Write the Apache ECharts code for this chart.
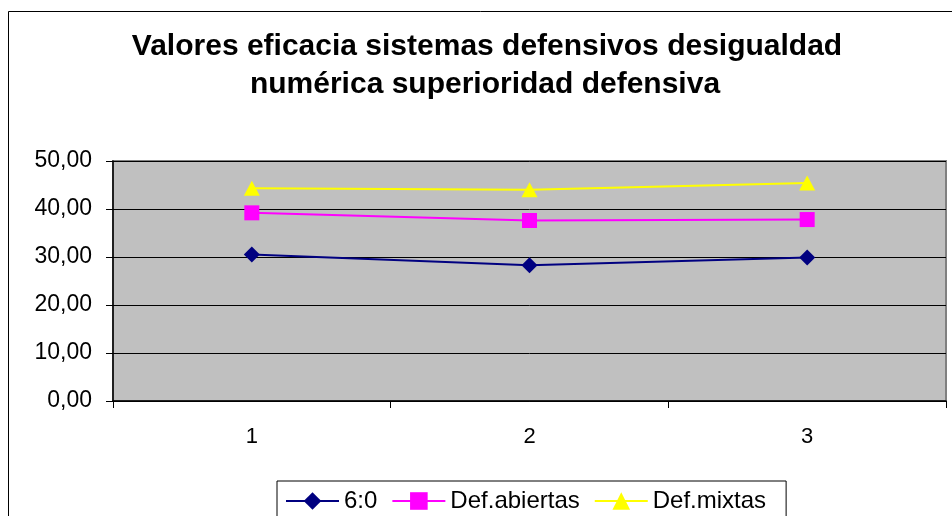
<!DOCTYPE html>
<html>
<head>
<meta charset="utf-8">
<script src="https://cdn.jsdelivr.net/npm/echarts@6/dist/echarts.min.js"></script>
<style>
html,body{margin:0;padding:0;background:#fff;}
#chart{width:952px;height:516px;}
</style>
</head>
<body>
<div id="chart"></div>
<script>
const titleLines = ['Valores eficacia sistemas defensivos desigualdad', 'numérica superioridad defensiva'];
const categories = ['1', '2', '3'];
const seriesNames = ['6:0', 'Def.abiertas', 'Def.mixtas'];
const values60 = [30.5, 28.3, 29.9];
const valuesAbiertas = [39.2, 37.6, 37.8];
const valuesMixtas = [44.3, 44.0, 45.4];
const yMin = 0, yMax = 50, yStep = 10;

const FONT = 'Liberation Sans, Arial, sans-serif';
const chart = echarts.init(document.getElementById('chart'), null, {renderer: 'canvas'});

const option = {
  animation: false,
  backgroundColor: '#ffffff',
  graphic: [
    {type: 'rect', silent: true, z: -10, shape: {x: 8.5, y: 11.5, width: 1200, height: 1200}, style: {fill: 'none', stroke: '#000', lineWidth: 1}},
    {type: 'text', x: 487, y: 47, style: {text: titleLines[0], font: 'bold 30px ' + FONT, fill: '#000', textAlign: 'center', textVerticalAlign: 'middle'}},
    {type: 'text', x: 485, y: 85, style: {text: titleLines[1], font: 'bold 30px ' + FONT, fill: '#000', textAlign: 'center', textVerticalAlign: 'middle'}}
  ],
  legend: {
    left: 277, top: 481,
    padding: [8, 20, 8, 8],
    itemWidth: 53, itemHeight: 22, itemGap: 14,
    borderColor: '#000', borderWidth: 1, borderRadius: 0,
    backgroundColor: '#fff',
    textStyle: {fontFamily: FONT, fontSize: 24, color: '#000'},
    data: seriesNames
  },
  grid: {
    left: 113, right: 6, top: 161, bottom: 115,
    show: true, backgroundColor: '#c0c0c0', borderColor: '#808080', borderWidth: 2,
    containLabel: false
  },
  xAxis: {
    type: 'category', data: categories, boundaryGap: true,
    axisLine: {lineStyle: {color: '#000', width: 1.5}},
    axisTick: {show: true, length: 7, inside: false, alignWithLabel: false, lineStyle: {color: '#000', width: 1}},
    axisLabel: {fontFamily: FONT, fontSize: 22, color: '#000', margin: 25},
    splitLine: {show: false}
  },
  yAxis: {
    type: 'value', min: yMin, max: yMax, interval: yStep,
    axisLine: {show: true, lineStyle: {color: '#000', width: 1.5}},
    axisTick: {show: true, length: 7, lineStyle: {color: '#000', width: 1}},
    axisLabel: {fontFamily: FONT, fontSize: 23, color: '#000', margin: 21,
      formatter: v => v.toFixed(2).replace('.', ',')},
    splitLine: {show: true, lineStyle: {color: '#000', width: 1}}
  },
  series: [
    {name: seriesNames[0], type: 'line', data: values60, color: '#000080',
      symbol: 'diamond', symbolSize: 16, lineStyle: {width: 2, color: '#000080'}, itemStyle: {color: '#000080'}},
    {name: seriesNames[1], type: 'line', data: valuesAbiertas, color: '#ff00ff',
      symbol: 'rect', symbolSize: 15, lineStyle: {width: 2, color: '#ff00ff'}, itemStyle: {color: '#ff00ff'}},
    {name: seriesNames[2], type: 'line', data: valuesMixtas, color: '#ffff00',
      symbol: 'triangle', symbolSize: [16, 15], lineStyle: {width: 2, color: '#ffff00'}, itemStyle: {color: '#ffff00'}}
  ]
};
chart.setOption(option);
</script>
</body>
</html>
